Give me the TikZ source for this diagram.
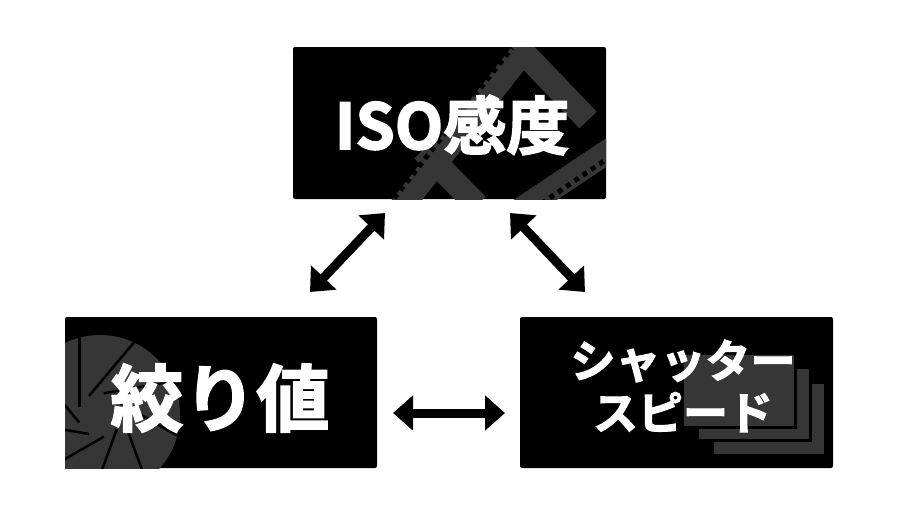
\documentclass[tikz,border=0pt]{standalone}
\usepackage{fontspec}
\setmainfont{Noto Sans CJK JP Bold}[BoldFont=Noto Sans CJK JP Bold,BoldFeatures={FakeBold=2.5}]
\usetikzlibrary{arrows.meta,calc}
\definecolor{dg}{HTML}{363636}
\tikzset{box/.style={fill=black,rounded corners=2pt},
 dbl/.style={line width=9pt,{Triangle[length=20pt,width=34pt]}-{Triangle[length=20pt,width=34pt]}},
 lbl/.style={text=white,inner sep=0,align=center}}
\begin{document}
\begin{tikzpicture}[x=1pt,y=-1pt]
\useasboundingbox (0,0) rectangle (900,512);
% top box
\path[box] (293,47) rectangle (606,199);
\begin{scope}
\clip (293,47) rectangle (606,199);
\draw[dg,line width=24pt] (395,215) -- (523,52) -- (588,120);
\draw[dg,line width=24pt] (423,150) -- (477,205);
\draw[dg,line width=24pt] (625,140) -- (520,210);
\draw[black,line width=5pt,dash pattern=on 5pt off 5pt] (388,206) -- (512,48);
\draw[black,line width=5pt,dash pattern=on 5pt off 5pt] (620,150) -- (520,218);
\end{scope}
\node[lbl,font=\bfseries\fontsize{63}{66}\selectfont] (iso) at (452,125) {ISO感度};
% left box
\path[box] (65,317) rectangle (377,468);
\begin{scope}
\clip (65,317) rectangle (377,468);
\fill[dg] (100,415) circle (80);
\foreach \a in {0,40,...,320}
  \draw[black,line width=2.5pt] ($(100,415)+(\a:22)$) -- ++(\a+70:100);
\end{scope}
\node[lbl,font=\bfseries\fontsize{73}{76}\selectfont] (ap) at (220,398) {絞り値};
% right box
\path[box] (520,317) rectangle (833,468);
\fill[dg,draw=black,line width=3pt] (712,382) rectangle (825,455);
\fill[dg,draw=black,line width=3pt] (697,367) rectangle (810,440);
\fill[dg,draw=black,line width=3pt] (682,353) rectangle (795,427);
\node[lbl,font=\bfseries\fontsize{45}{52}\selectfont] (ss) at (683,386) {シャッター\\スピード};
% arrows
\coordinate (a1) at (385,213); \coordinate (a2) at (310,292);
\coordinate (b1) at (510,213); \coordinate (b2) at (585,292);
\coordinate (c1) at (393,413); \coordinate (c2) at (505,413);
\draw[dbl] (a1) -- (a2);
\draw[dbl] (b1) -- (b2);
\draw[dbl] (c1) -- (c2);
\end{tikzpicture}
\end{document}
